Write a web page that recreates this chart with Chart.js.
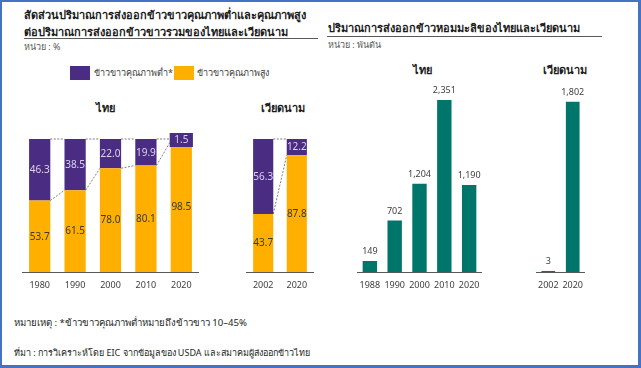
<!DOCTYPE html>
<html>
<head>
<meta charset="utf-8">
<script src="https://cdn.jsdelivr.net/npm/chart.js@4.4.1/dist/chart.umd.min.js"></script>
<style>
  html, body { margin: 0; padding: 0; background: #fff; }
  body { position: relative; width: 641px; height: 368px; overflow: hidden;
         font-family: Tahoma, 'Noto Sans', 'Liberation Sans', sans-serif; color: #262626; }
  .frame { position: absolute; left: 0; top: 0; width: 641px; height: 368px; box-sizing: border-box;
           border: 2px solid #4472C4; border-right-width: 3px; border-bottom-width: 3px; pointer-events: none; }
  .txt { position: absolute; white-space: nowrap; }
  .title { font-size: 11px; font-weight: bold; line-height: 14px; color: #1a1a1a; }
  .unit { font-size: 9px; line-height: 12px; color: #595959; }
  .head { font-size: 11px; font-weight: bold; line-height: 14px; width: 100px; text-align: center; color: #1a1a1a; }
  .rule { position: absolute; height: 1px; background: #595959; }
  .swatch { position: absolute; width: 20px; height: 14px; }
  .legend { font-size: 9px; line-height: 12px; color: #404040; }
  .note { font-size: 9.6px; line-height: 14px; color: #262626; }
  .box { position: absolute; }
</style>
</head>
<body>
<div class="txt title" style="left:24px; top:8px">สัดส่วนปริมาณการส่งออกข้าวขาวคุณภาพต่ำและคุณภาพสูง</div>
<div class="txt title" style="left:24px; top:25px">ต่อปริมาณการส่งออกข้าวขาวรวมของไทยและเวียดนาม</div>
<div class="rule" style="left:24px; top:38px; width:294px"></div>
<div class="txt unit" style="left:24px; top:41px">หน่วย : %</div>

<div class="swatch" style="left:70px; top:66px; background:#4B2C83"></div>
<div class="txt legend" style="left:94px; top:67px">ข้าวขาวคุณภาพต่ำ*</div>
<div class="swatch" style="left:174px; top:66px; background:#FFAF00"></div>
<div class="txt legend" style="left:197px; top:67px">ข้าวขาวคุณภาพสูง</div>

<div class="txt head" style="left:55px; top:101px">ไทย</div>
<div class="txt head" style="left:233px; top:101px">เวียดนาม</div>

<div class="txt title" style="left:328px; top:21px">ปริมาณการส่งออกข้าวหอมมะลิของไทยและเวียดนาม</div>
<div class="rule" style="left:327px; top:36px; width:275px"></div>
<div class="txt unit" style="left:328px; top:39px">หน่วย : พันตัน</div>

<div class="txt head" style="left:372px; top:63px">ไทย</div>
<div class="txt head" style="left:515px; top:63px">เวียดนาม</div>

<div class="box" style="left:22px; top:120px; width:177px; height:182px"><canvas id="thaiShare"></canvas></div>
<div class="box" style="left:246px; top:120px; width:68px; height:182px"><canvas id="vnShare"></canvas></div>
<div class="box" style="left:353px; top:75px; width:133px; height:227px"><canvas id="thaiJasmine"></canvas></div>
<div class="box" style="left:532px; top:70px; width:57px; height:232px"><canvas id="vnJasmine"></canvas></div>

<div class="txt note" style="left:14px; top:316px">หมายเหตุ : *ข้าวขาวคุณภาพต่ำหมายถึงข้าวขาว 10–45%</div>
<div class="txt note" style="left:14px; top:346px; font-size:9px">ที่มา : การวิเคราะห์โดย EIC จากข้อมูลของ USDA และสมาคมผู้ส่งออกข้าวไทย</div>

<div class="frame"></div>

<script>
// share of low / high quality white rice exports (%)
const thaiShareYears = ['1980', '1990', '2000', '2010', '2020']
const thaiLowQuality = [46.3, 38.5, 22.0, 19.9, 1.5]
const thaiHighQuality = [53.7, 61.5, 78.0, 80.1, 98.5]

const vnShareYears = ['2002', '2020']
const vnLowQuality = [56.3, 12.2]
const vnHighQuality = [43.7, 87.8]

// jasmine rice exports (thousand tonnes)
const thaiJasmineYears = ['1988', '1990', '2000', '2010', '2020']
const thaiJasmine = [149, 702, 1204, 2351, 1190]

const vnJasmineYears = ['2002', '2020']
const vnJasmine = [3, 1802]

const PURPLE = '#4B2C83'
const ORANGE = '#FFAF00'
const TEAL = '#00766B'
const FONT = "Tahoma, 'Noto Sans', 'Liberation Sans', sans-serif"

Chart.defaults.font.family = FONT
Chart.defaults.animation = false

// dotted lines joining the tops of the stacked segments
const seriesLines = {
  id: 'seriesLines',
  beforeDatasetsDraw(chart) {
    const ctx = chart.ctx
    ctx.save()
    ctx.strokeStyle = '#7F7F7F'
    ctx.lineWidth = 1
    ctx.setLineDash([2, 1.5])
    chart.data.datasets.forEach((ds, d) => {
      const bars = chart.getDatasetMeta(d).data
      for (let i = 0; i < bars.length - 1; i++) {
        const a = bars[i]
        const b = bars[i + 1]
        ctx.beginPath()
        ctx.moveTo(a.x + a.width / 2, a.y)
        ctx.lineTo(b.x - b.width / 2, b.y)
        ctx.stroke()
      }
    })
    ctx.restore()
  }
}

// value labels in the middle of each segment
const stackLabels = {
  id: 'stackLabels',
  afterDatasetsDraw(chart) {
    const ctx = chart.ctx
    ctx.save()
    ctx.font = '10px ' + FONT
    ctx.textAlign = 'center'
    ctx.textBaseline = 'middle'
    chart.data.datasets.forEach((ds, d) => {
      chart.getDatasetMeta(d).data.forEach((bar, i) => {
        const y = (bar.y + bar.base) / 2
        if (Math.abs(bar.base - bar.y) < 13) {
          ctx.fillStyle = ds.backgroundColor
          ctx.fillRect(bar.x - bar.width / 2 - 1, y - 7, bar.width + 2, 14)
        }
        ctx.fillStyle = ds.labelColor
        ctx.fillText(ds.data[i].toFixed(1), bar.x, y + 0.5)
      })
    })
    ctx.restore()
  }
}

// value labels above bars
const topLabels = {
  id: 'topLabels',
  afterDatasetsDraw(chart) {
    const ctx = chart.ctx
    ctx.save()
    ctx.font = '9px ' + FONT
    ctx.fillStyle = '#404040'
    ctx.textAlign = 'center'
    ctx.textBaseline = 'bottom'
    chart.data.datasets.forEach((ds, d) => {
      chart.getDatasetMeta(d).data.forEach((bar, i) => {
        ctx.fillText(ds.data[i].toLocaleString('en-US'), bar.x, bar.y - 5)
      })
    })
    ctx.restore()
  }
}

function xAxis() {
  return {
    grid: { display: false, drawTicks: false },
    border: { display: true, color: '#595959', width: 1 },
    ticks: { color: '#404040', padding: 7, font: { size: 9, lineHeight: '12px' } }
  }
}

function shareChart(id, years, low, high, barPct) {
  return new Chart(document.getElementById(id), {
    type: 'bar',
    data: {
      labels: years,
      datasets: [
        { label: 'ข้าวขาวคุณภาพสูง', data: high, backgroundColor: ORANGE, labelColor: '#3A3A3A',
          barPercentage: barPct, categoryPercentage: 1 },
        { label: 'ข้าวขาวคุณภาพต่ำ*', data: low, backgroundColor: PURPLE, labelColor: '#DCD3EC',
          barPercentage: barPct, categoryPercentage: 1 }
      ]
    },
    options: {
      responsive: true,
      maintainAspectRatio: false,
      layout: { padding: { top: 19, bottom: 4, left: 0, right: 0 } },
      plugins: { legend: { display: false }, tooltip: { enabled: false } },
      scales: {
        x: { stacked: true, ...xAxis() },
        y: { stacked: true, display: false, min: 0, max: 100 }
      }
    },
    plugins: [seriesLines, stackLabels]
  })
}

function jasmineChart(id, years, values, max, padTop, barPct) {
  return new Chart(document.getElementById(id), {
    type: 'bar',
    data: {
      labels: years,
      datasets: [{ label: 'ข้าวหอมมะลิ', data: values, backgroundColor: TEAL,
        barPercentage: barPct, categoryPercentage: 1, minBarLength: 1 }]
    },
    options: {
      responsive: true,
      maintainAspectRatio: false,
      layout: { padding: { top: padTop, bottom: 4, left: 0, right: 0 } },
      plugins: { legend: { display: false }, tooltip: { enabled: false } },
      scales: {
        x: xAxis(),
        y: { display: false, min: 0, max: max }
      }
    },
    plugins: [topLabels]
  })
}

shareChart('thaiShare', thaiShareYears, thaiLowQuality, thaiHighQuality, 0.6)
shareChart('vnShare', vnShareYears, vnLowQuality, vnHighQuality, 0.6)
jasmineChart('thaiJasmine', thaiJasmineYears, thaiJasmine, 2500, 14, 0.58)
jasmineChart('vnJasmine', vnJasmineYears, vnJasmine, 2000, 13, 0.56)
</script>
</body>
</html>
